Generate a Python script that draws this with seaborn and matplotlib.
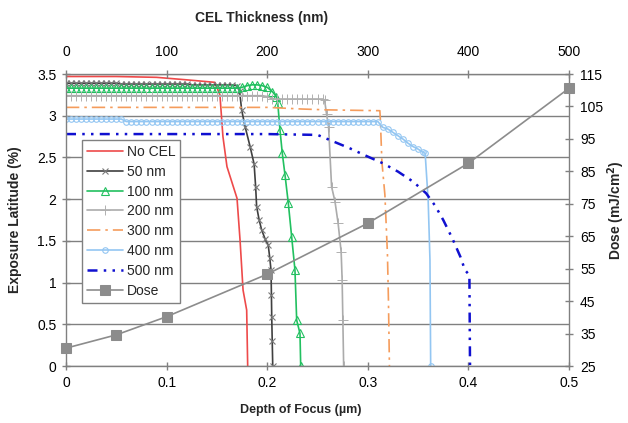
import matplotlib
matplotlib.use("Agg")
import matplotlib.pyplot as plt
import seaborn as sns
from matplotlib.ticker import FuncFormatter

sns.set_theme(style="white")
plt.rcParams["font.family"] = ["Liberation Sans", "DejaVu Sans"]

# Depth-of-focus sampling used by the densely sampled curves (um)
dof_grid = [
    0.000, 0.005, 0.010, 0.015, 0.020, 0.025, 0.030, 0.035, 0.040, 0.045,
    0.050, 0.055, 0.060, 0.065, 0.070, 0.075, 0.080, 0.085, 0.090, 0.095,
    0.100, 0.105, 0.110, 0.115, 0.120, 0.125, 0.130, 0.135, 0.140, 0.145,
    0.150, 0.155, 0.160, 0.165, 0.170, 0.175, 0.180, 0.185, 0.190, 0.195,
    0.200, 0.205, 0.210, 0.215, 0.220, 0.225, 0.230, 0.235, 0.240, 0.245,
    0.250, 0.255, 0.260, 0.265, 0.270, 0.275, 0.280, 0.285, 0.290, 0.295,
    0.300, 0.305, 0.310, 0.315, 0.320, 0.325, 0.330, 0.335, 0.340, 0.345,
    0.350, 0.355,
]

# No CEL
dof_none = [0.0, 0.05, 0.09, 0.12, 0.148, 0.153, 0.156, 0.160, 0.165, 0.170,
            0.173, 0.176, 0.1796, 0.1806]
el_none = [3.47, 3.47, 3.46, 3.43, 3.40, 3.25, 2.75, 2.39, 2.20, 2.01,
           1.51, 0.91, 0.67, 0.0]

# 50 nm CEL
dof_50 = dof_grid[:35] + [0.1725, 0.1746, 0.178, 0.183, 0.187, 0.1885, 0.1895,
                          0.192, 0.1945, 0.198, 0.201, 0.2025, 0.2038, 0.2042,
                          0.2045, 0.205, 0.2055]
el_50 = [3.39, 3.39, 3.39, 3.39, 3.39, 3.39, 3.39, 3.39, 3.39, 3.39, 3.39,
         3.38, 3.38, 3.38, 3.38, 3.38, 3.38, 3.38, 3.38, 3.38, 3.38, 3.38,
         3.38, 3.38, 3.38,
         3.37, 3.37, 3.37, 3.37, 3.37, 3.37, 3.37, 3.37, 3.37, 3.36,
         3.30, 3.07, 2.87, 2.63, 2.42, 2.15, 1.91, 1.75, 1.63, 1.52, 1.45,
         1.30, 1.15, 0.85, 0.59, 0.30, 0.0]

# 100 nm CEL
dof_100 = dof_grid[:41] + [0.205, 0.209, 0.2105, 0.2127, 0.215, 0.2177, 0.221,
                           0.2243, 0.2276, 0.2293, 0.2326, 0.2333]
el_100 = [3.33, 3.33, 3.33, 3.33, 3.33, 3.33, 3.33, 3.33, 3.33, 3.33,
          3.33, 3.33, 3.33, 3.33, 3.33, 3.33, 3.33, 3.33, 3.33, 3.33,
          3.33, 3.33, 3.33, 3.33, 3.33, 3.33, 3.33, 3.33, 3.33, 3.33,
          3.33, 3.33, 3.33, 3.33, 3.33, 3.34, 3.36, 3.37, 3.37, 3.36, 3.34,
          3.29, 3.23, 3.15, 2.83, 2.55, 2.29, 1.95, 1.55, 1.15, 0.55, 0.39, 0.0]

# 200 nm CEL
dof_200 = dof_grid[:52] + [0.257, 0.259, 0.261, 0.264, 0.2674, 0.2705, 0.2735,
                           0.2745, 0.2752, 0.276]
el_200 = [3.24, 3.24, 3.24, 3.24, 3.24, 3.24, 3.24, 3.24, 3.24, 3.24,
          3.24, 3.24, 3.24, 3.24, 3.24, 3.24, 3.24, 3.24, 3.24, 3.24,
          3.24, 3.24, 3.24, 3.24, 3.24, 3.24, 3.24, 3.24, 3.24, 3.24,
          3.24, 3.24, 3.24, 3.24, 3.24, 3.24, 3.24, 3.24, 3.24, 3.24, 3.23,
          3.20, 3.20, 3.20, 3.20, 3.20, 3.20, 3.20, 3.20, 3.20, 3.20, 3.20,
          3.19, 3.02, 2.87, 2.15, 1.97, 1.71, 1.37, 1.03, 0.55, 0.0]

# 300 nm CEL
dof_300 = [0.0, 0.10, 0.20, 0.235, 0.26, 0.312, 0.3125, 0.314, 0.317, 0.3195,
           0.3205, 0.3215]
el_300 = [3.10, 3.10, 3.10, 3.08, 3.07, 3.06, 2.95, 2.45, 2.05, 1.35, 0.80, 0.0]

# 400 nm CEL
dof_400 = dof_grid + [0.357, 0.360, 0.3618, 0.3625]
el_400 = [2.96, 2.96, 2.96, 2.96, 2.96, 2.96, 2.96, 2.96, 2.96, 2.96, 2.96, 2.96,
          2.93, 2.93, 2.93, 2.93, 2.93, 2.93, 2.93, 2.93, 2.93, 2.93,
          2.93, 2.93, 2.93, 2.93, 2.93, 2.93, 2.93, 2.93, 2.93, 2.93,
          2.93, 2.93, 2.93, 2.93, 2.93, 2.93, 2.93, 2.93, 2.93, 2.93,
          2.93, 2.93, 2.93, 2.93, 2.93, 2.93, 2.93, 2.93, 2.93, 2.93,
          2.93, 2.93, 2.93, 2.93, 2.93, 2.93, 2.93, 2.93, 2.93, 2.93, 2.93,
          2.86, 2.84, 2.80, 2.76, 2.72, 2.67, 2.63, 2.60, 2.56,
          2.55, 1.99, 1.27, 0.0]

# 500 nm CEL
dof_500 = [0.0, 0.10, 0.20, 0.25, 0.266, 0.282, 0.300, 0.315, 0.330, 0.345,
           0.358, 0.367, 0.375, 0.384, 0.392, 0.3966, 0.401, 0.4016]
el_500 = [2.78, 2.78, 2.78, 2.77, 2.69, 2.61, 2.51, 2.43, 2.33, 2.21,
          2.07, 1.92, 1.75, 1.53, 1.31, 1.15, 1.09, 0.0]

# Exposure dose versus CEL thickness
cel_thickness = [0, 50, 100, 200, 300, 400, 500]
dose = [30.5, 34.6, 40.2, 53.3, 69.0, 87.5, 110.6]

dof_ticks = [0, 0.1, 0.2, 0.3, 0.4, 0.5]
el_ticks = [0, 0.5, 1, 1.5, 2, 2.5, 3, 3.5]
thickness_ticks = [0, 100, 200, 300, 400, 500]
dose_ticks = [25, 35, 45, 55, 65, 75, 85, 95, 105, 115]

GRID = "#808080"
fig = plt.figure(figsize=(6.28, 4.23), dpi=100)
rect = [66 / 628, 57 / 423, 503 / 628, 292 / 423]
ax = fig.add_axes(rect)
ax.set_facecolor("white")

common = dict(ax=ax, sort=False, estimator=None, legend=False)
sns.lineplot(x=dof_none, y=el_none, color="#ee4a4a", lw=1.2, label="No CEL", **common)
sns.lineplot(x=dof_50, y=el_50, color="#404040", lw=1.2, marker="x", markersize=5,
             mec="#7a7a7a", mew=0.8, label="50 nm", **common)
sns.lineplot(x=dof_100, y=el_100, color="#22c060", lw=1.2, marker="^", markersize=6,
             mfc="none", mec="#22c060", mew=0.8, label="100 nm", **common)
sns.lineplot(x=dof_200, y=el_200, color="#ababab", lw=1.2, marker="+", markersize=7,
             mec="#b0b0b0", mew=0.7, label="200 nm", **common)
sns.lineplot(x=dof_300, y=el_300, color="#f59c5c", lw=1.2, linestyle=(0, (8, 3, 1.5, 3)),
             label="300 nm", **common)
sns.lineplot(x=dof_400, y=el_400, color="#93c6f2", lw=1.2, marker="o", markersize=4,
             mfc="none", mec="#93c6f2", mew=0.8,
             markevery=list(range(len(dof_grid) + 1)) + [len(dof_400) - 1],
             label="400 nm", **common)
sns.lineplot(x=dof_500, y=el_500, color="#1010d0", lw=1.8, linestyle=(0, (4, 2.5, 1, 2.5, 1, 2.5)),
             label="500 nm", **common)

ax.set_xlim(0, 0.5)
ax.set_ylim(0, 3.5)
ax.set_xticks(dof_ticks)
ax.set_yticks(el_ticks)
fmt = FuncFormatter(lambda v, p: f"{v:g}")
ax.xaxis.set_major_formatter(fmt)
ax.yaxis.set_major_formatter(fmt)
ax.yaxis.grid(True, color=GRID, lw=1.0)
ax.xaxis.grid(False)
ax.set_axisbelow(True)
for s in ax.spines.values():
    s.set_color(GRID)
    s.set_linewidth(1.0)
ax.tick_params(axis="both", which="major", direction="inout", length=6, width=1,
               color=GRID, labelsize=10, labelcolor="black", pad=4,
               top=False, right=False, bottom=True, left=True)
ax.set_xlabel("")
ax.set_ylabel("")

# Dose curve on the top/right axes (CEL thickness vs dose)
ax2 = fig.add_axes(rect, frameon=False)
ax2.patch.set_visible(False)
sns.lineplot(x=cel_thickness, y=dose, ax=ax2, sort=False, estimator=None, legend=False,
             color="#8c8c8c", lw=1.2, marker="s", markersize=7.5, mfc="#8c8c8c",
             mec="#8c8c8c", clip_on=False, label="Dose")
ax2.set_xlim(0, 500)
ax2.set_ylim(25, 115)
ax2.set_xticks(thickness_ticks)
ax2.set_yticks(dose_ticks)
ax2.xaxis.tick_top()
ax2.yaxis.tick_right()
ax2.tick_params(axis="both", direction="inout", length=6, width=1, color=GRID,
                labelsize=10, labelcolor="black")
ax2.tick_params(axis="x", pad=8)
ax2.tick_params(axis="y", pad=5)
ax2.set_xlabel("")
ax2.set_ylabel("")

handles = ax.get_lines() + ax2.get_lines()
labels = [h.get_label() for h in handles]
leg = ax2.legend(handles, labels, loc="upper left", bbox_to_anchor=(0.032, 0.774),
                 borderaxespad=0, fontsize=10, handlelength=2.6, handletextpad=0.25,
                 labelspacing=0.42, borderpad=0.35, frameon=True, fancybox=False,
                 framealpha=1, edgecolor=GRID, facecolor="white")
leg.get_frame().set_linewidth(1.0)

fig.text(262 / 628, 1 - 18 / 423, "CEL Thickness (nm)", ha="center", va="center",
         fontsize=10, fontweight="bold")
fig.text(301 / 628, 1 - 410 / 423, "Depth of Focus (\u00b5m)", ha="center", va="center",
         fontsize=9, fontweight="bold")
fig.text(15 / 628, 1 - 220 / 423, "Exposure Latitude (%)", ha="center", va="center",
         rotation=90, fontsize=10, fontweight="bold")
fig.text(616 / 628, 1 - 210 / 423, "Dose (mJ/cm$^{\\mathbf{2}}$)", ha="center", va="center",
         rotation=90, fontsize=10, fontweight="bold")

fig.savefig("out.png", dpi=100, facecolor="white")
